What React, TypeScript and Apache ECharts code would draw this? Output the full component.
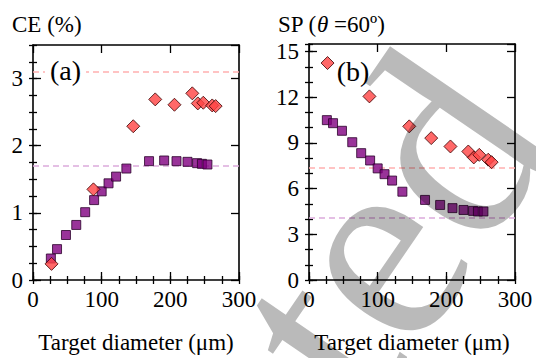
import React, { useEffect, useRef } from "react";
import * as echarts from "echarts";

// ---- data ----
const squareDiameters = [26, 35, 48, 63, 76, 89, 100, 110, 121, 136, 169, 191, 209, 225, 239, 246, 254];
const ceSquare = [0.32, 0.46, 0.67, 0.82, 1.01, 1.19, 1.32, 1.44, 1.54, 1.66, 1.77, 1.78, 1.77, 1.76, 1.74, 1.73, 1.72];
const spSquare = [10.5, 10.3, 9.8, 9.05, 8.33, 7.85, 7.33, 6.95, 6.53, 5.8, 5.26, 4.93, 4.72, 4.6, 4.54, 4.5, 4.5];

const diamondDiameters = [27, 88, 146, 178, 206, 232, 240, 248, 261, 266];
const ceDiamond = [0.24, 1.35, 2.29, 2.69, 2.61, 2.78, 2.63, 2.64, 2.6, 2.59];
const spDiamond = [14.25, 12.06, 10.09, 9.32, 8.77, 8.44, 8.05, 8.22, 7.9, 7.74];

const ceRefRed = 3.1;
const ceRefPurple = 1.7;
const spRefRed = 7.4;
const spRefPurple = 4.1;

const xAxisRange = { min: 0, max: 300, major: 100, minor: 25 };
const ceAxisRange = { min: 0, max: 3.5, major: 1, minor: 0.25 };
const spAxisRange = { min: 0, max: 15.5, major: 3, minor: 1 };

const xTitle = "Target diameter (\u03bcm)";
const watermarkText = "ted";

const FONT = "Liberation Serif";
const RED = "#ff4242";
const PURPLE = "#800080";

function zip(xs: number[], ys: number[]) {
  return xs.map((x, i) => [x, ys[i]]);
}

function makeAxes(dim: "x" | "y", gridIndex: number, r: { min: number; max: number; major: number; minor: number }) {
  const sides = dim === "x" ? ["bottom", "top"] : ["left", "right"];
  const base: any = {
    gridIndex,
    type: "value",
    min: r.min,
    max: r.max,
    splitLine: { show: false },
    axisLabel: { show: false },
    axisLine: { show: false },
  };
  const tick = (len: number) => ({
    show: true,
    inside: true,
    length: len,
    lineStyle: { color: "#000", width: 1.3 },
  });
  const line = { show: true, onZero: false, lineStyle: { color: "#000", width: 1.6 } };
  return [
    {
      ...base,
      position: sides[0],
      interval: r.major,
      axisLine: line,
      axisTick: tick(8),
      axisLabel: {
        show: true,
        showMaxLabel: dim === "x",
        fontFamily: FONT,
        fontSize: 23,
        color: "#000",
        margin: dim === "x" ? 8 : 10,
      },
    },
    { ...base, position: sides[1], interval: r.major, axisLine: line, axisTick: tick(8) },
    { ...base, position: sides[0], interval: r.minor, axisTick: tick(4) },
    { ...base, position: sides[1], interval: r.minor, axisTick: tick(4) },
  ];
}

function refLine(value: number, color: string) {
  return {
    silent: true,
    z: 1,
    symbol: ["none", "none"],
    label: { show: false },
    lineStyle: { type: [6, 4], color, width: 1.6 },
    data: [{ yAxis: value }],
  };
}

export default function App() {
  const ref = useRef<HTMLDivElement>(null);
  useEffect(() => {
    if (!ref.current) return;
    const chart = echarts.init(ref.current, undefined, { renderer: "svg" });
    const squareStyle = { color: PURPLE, borderColor: "#2a002a", borderWidth: 1 };
    const diamondStyle = { color: RED, borderColor: "#3a0000", borderWidth: 1 };
    chart.setOption({
      animation: false,
      backgroundColor: "#fff",
      textStyle: { fontFamily: FONT },
      grid: [
        { left: 33, top: 45, width: 206, height: 235 },
        { left: 309, top: 44, width: 206, height: 236 },
      ],
      xAxis: [...makeAxes("x", 0, xAxisRange), ...makeAxes("x", 1, xAxisRange)],
      yAxis: [...makeAxes("y", 0, ceAxisRange), ...makeAxes("y", 1, spAxisRange)],
      series: [
        {
          type: "scatter",
          xAxisIndex: 0,
          yAxisIndex: 0,
          symbol: "rect",
          symbolSize: 9,
          itemStyle: squareStyle,
          data: zip(squareDiameters, ceSquare),
          markLine: refLine(ceRefPurple, "#dcaadc"),
        },
        {
          type: "scatter",
          xAxisIndex: 0,
          yAxisIndex: 0,
          symbol: "diamond",
          symbolSize: 13,
          itemStyle: diamondStyle,
          data: zip(diamondDiameters, ceDiamond),
          markLine: refLine(ceRefRed, "#ffb0b0"),
        },
        {
          type: "scatter",
          xAxisIndex: 4,
          yAxisIndex: 4,
          symbol: "rect",
          symbolSize: 9,
          itemStyle: squareStyle,
          data: zip(squareDiameters, spSquare),
          markLine: refLine(spRefPurple, "#dcaadc"),
        },
        {
          type: "scatter",
          xAxisIndex: 4,
          yAxisIndex: 4,
          symbol: "diamond",
          symbolSize: 13,
          itemStyle: diamondStyle,
          data: zip(diamondDiameters, spDiamond),
          markLine: refLine(spRefRed, "#ffb0b0"),
        },
      ],
      graphic: [
        {
          type: "text",
          x: 12,
          y: 24,
          z: 100,
          style: { text: "CE (%)", fontFamily: FONT, fontSize: 23, fill: "#000", align: "left", verticalAlign: "middle" },
        },
        {
          type: "text",
          x: 278,
          y: 24,
          z: 100,
          style: {
            text: "{n|SP (}{i|\u03b8}{n| =60\u00ba)}",
            fill: "#000",
            align: "left",
            verticalAlign: "middle",
            rich: {
              n: { fontFamily: FONT, fontSize: 23, fill: "#000" },
              i: { fontFamily: FONT, fontSize: 23, fontStyle: "italic", fill: "#000" },
            },
          },
        },
        {
          type: "text",
          x: 65.5,
          y: 70,
          z: 100,
          style: {
            text: "(a)",
            fontFamily: FONT,
            fontSize: 28,
            fill: "#000",
            align: "center",
            verticalAlign: "middle",
            backgroundColor: "#fff",
            padding: [0, 5],
          },
        },
        {
          type: "text",
          x: 353,
          y: 71,
          z: 100,
          style: { text: "(b)", fontFamily: FONT, fontSize: 28, fill: "#000", align: "center", verticalAlign: "middle" },
        },
        {
          type: "text",
          x: 136,
          y: 342,
          z: 100,
          style: { text: xTitle, fontFamily: FONT, fontSize: 23, fill: "#000", align: "center", verticalAlign: "middle" },
        },
        {
          type: "text",
          x: 412,
          y: 342,
          z: 100,
          style: { text: xTitle, fontFamily: FONT, fontSize: 23, fill: "#000", align: "center", verticalAlign: "middle" },
        },
        {
          type: "text",
          x: 387,
          y: 228,
          rotation: 0.97,
          z: 200,
          silent: true,
          style: {
            text: watermarkText,
            fontFamily: FONT,
            fontSize: 280,
            fill: "rgba(0,0,0,0.27)",
            align: "center",
            verticalAlign: "middle",
          },
        },
      ],
    });
    return () => chart.dispose();
  }, []);
  return <div ref={ref} style={{ position: "absolute", left: 0, top: 0, width: 536, height: 358 }} />;
}
